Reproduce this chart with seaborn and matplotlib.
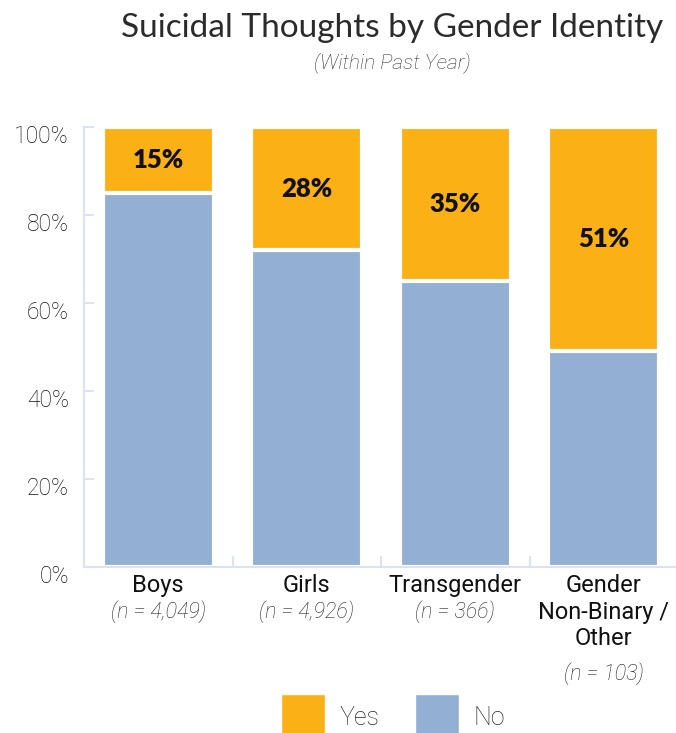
import matplotlib
matplotlib.use("Agg")
import matplotlib.pyplot as plt
import seaborn as sns
import pandas as pd
from matplotlib.transforms import ScaledTranslation
from matplotlib.patches import Patch

# Survey results: share of respondents reporting suicidal thoughts
groups = ["Boys", "Girls", "Transgender", "Gender\nNon-Binary /\nOther"]
sample_sizes = ["(n = 4,049)", "(n = 4,926)", "(n = 366)", "(n = 103)"]
yes_pct = [15, 28, 35, 51]
no_pct = [85, 72, 65, 49]
value_labels = ["15%", "28%", "35%", "51%"]
y_ticks = [0, 20, 40, 60, 80, 100]
y_tick_labels = ["0%", "20%", "40%", "60%", "80%", "100%"]

YES_COLOR = "#FBB116"
NO_COLOR = "#93AFD4"
AXIS_COLOR = "#DCE3F0"
TEXT_COLOR = "#111111"

sns.set_theme(style="white")
plt.rcParams["font.family"] = ["Roboto", "DejaVu Sans"]

df = pd.DataFrame({"group": groups, "yes": yes_pct, "no": no_pct})
df["total"] = df["yes"] + df["no"]

fig = plt.figure(figsize=(6.76, 7.33), dpi=100)
ax = fig.add_axes([84 / 676, 166 / 733, 594 / 676, 440 / 733])

# Stacked bars: full-height "Yes" bars with "No" bars drawn over the lower part
sns.barplot(data=df, x="group", y="total", color=YES_COLOR, saturation=1,
            width=0.75, edgecolor="white", linewidth=3, ax=ax)
sns.barplot(data=df, x="group", y="no", color=NO_COLOR, saturation=1,
            width=0.75, edgecolor="white", linewidth=3, ax=ax)

ax.set_xlim(-0.5, len(groups) - 0.5)
ax.set_ylim(0, 100)
ax.set_xlabel("")
ax.set_ylabel("")

# Value labels centred in the "Yes" segment
for i, (n, y, lab) in enumerate(zip(no_pct, yes_pct, value_labels)):
    ax.text(i, n + y / 2, lab, ha="center", va="center", fontsize=18.5,
            fontweight="heavy", family=["Lato", "DejaVu Sans"], color="#111111")

# Axes styling
for side in ["top", "right"]:
    ax.spines[side].set_visible(False)
for side in ["left", "bottom"]:
    ax.spines[side].set_color(AXIS_COLOR)
    ax.spines[side].set_linewidth(1.5)

ax.set_yticks(y_ticks)
ax.set_yticklabels(y_tick_labels, fontsize=16.5, fontweight="light", color=TEXT_COLOR)
ax.tick_params(axis="y", direction="in", length=7, width=1.5, color=AXIS_COLOR, pad=11, left=True)
for lab in ax.get_yticklabels():
    lab.set_transform(lab.get_transform() + ScaledTranslation(0, -7 / 100, fig.dpi_scale_trans))

ax.set_xticks(range(len(groups)))
ax.set_xticklabels(groups, fontsize=17, color=TEXT_COLOR, linespacing=1.2)
ax.set_xticks([i + 0.5 for i in range(len(groups) - 1)], minor=True)
ax.tick_params(axis="x", which="major", length=0, pad=5)
ax.tick_params(axis="x", which="minor", direction="in", length=8, width=1.5,
               color=AXIS_COLOR, bottom=True)

# Sample sizes below each category name
for i, (g, n) in enumerate(zip(groups, sample_sizes)):
    lines = g.count("\n") + 1
    ax.annotate(n, xy=(i, 0), xycoords=("data", "axes fraction"),
                xytext=(0, -32 - 22.5 * (lines - 1)), textcoords="offset points",
                ha="center", va="center", fontsize=15.5, fontstyle="italic",
                fontweight="light", color="#222222")

# Title and subtitle
fig.text(392 / 676, 1 - 28 / 733, "Suicidal Thoughts by Gender Identity",
         ha="center", va="center", fontsize=24, family=["Lato", "DejaVu Sans"],
         color="#2b2b2b")
fig.text(392 / 676, 1 - 63 / 733, "(Within Past Year)", ha="center", va="center",
         fontsize=15, fontstyle="italic", fontweight="light", color="#333333")

handles = [Patch(facecolor=YES_COLOR, label="Yes"), Patch(facecolor=NO_COLOR, label="No")]
fig.legend(handles=handles, loc="center", bbox_to_anchor=(393 / 676, 1 - 717 / 733),
           ncol=2, frameon=False, handlelength=1.75, handleheight=2.5,
           handletextpad=0.6, columnspacing=1.4, borderpad=0,
           prop={"weight": "light", "size": 18})

fig.savefig("out.png", dpi=100, facecolor="white")
